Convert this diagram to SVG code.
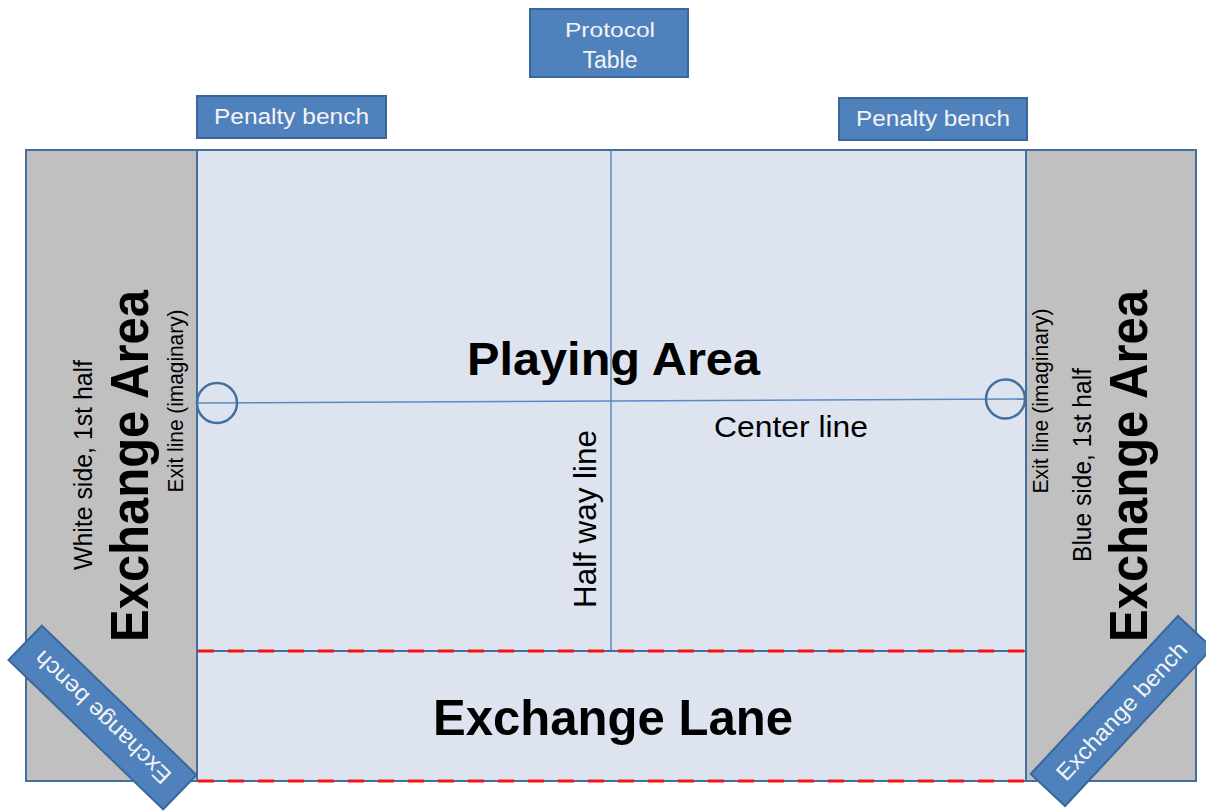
<svg xmlns="http://www.w3.org/2000/svg" width="1206" height="811" viewBox="0 0 1206 811">
<style>
.box{fill:#4f81bd;stroke:#3a669a;stroke-width:2}
.btxt{font-family:"Liberation Sans",Arial,sans-serif;fill:#f4f4f4;text-anchor:middle}
.lbl{font-family:"Liberation Sans",Arial,sans-serif;fill:#000;text-anchor:middle}
.big{font-weight:bold}
.red{stroke:#ff1010;stroke-width:3;stroke-dasharray:16 14;fill:none}
</style>
<rect width="1206" height="811" fill="#ffffff"/>
<g id="field">
  <rect x="26" y="150" width="1170" height="631" fill="#c0c0c0" stroke="#41709f" stroke-width="2"/>
  <rect x="197" y="150" width="829" height="631" fill="#dde4f0" stroke="#41709f" stroke-width="2"/>
</g>
<g id="connectors">
  <line x1="611" y1="150" x2="611" y2="650" stroke="#5a8ac6" stroke-width="1.5"/>
  <line x1="197" y1="403" x2="1026" y2="399" stroke="#5a8ac6" stroke-width="1.5"/>
  <line x1="197" y1="651" x2="1026" y2="651" stroke="#41709f" stroke-width="2"/>
  <line class="red" x1="198" y1="651" x2="1026" y2="651"/>
  <line class="red" x1="198" y1="781" x2="1026" y2="781"/>
</g>
<g id="exit-circles">
  <circle cx="217" cy="403" r="20" fill="none" stroke="#41709f" stroke-width="2.5"/>
  <circle cx="1005.5" cy="399" r="19.5" fill="none" stroke="#41709f" stroke-width="2.5"/>
</g>
<g id="playing-area">
  <text class="lbl big" x="613.5" y="375" font-size="46" textLength="293" lengthAdjust="spacingAndGlyphs">Playing Area</text>
  <text class="lbl" x="791" y="437" font-size="29" textLength="154" lengthAdjust="spacingAndGlyphs">Center line</text>
  <text class="lbl" transform="translate(596,519) rotate(-90)" font-size="32" textLength="178" lengthAdjust="spacingAndGlyphs">Half way line</text>
</g>
<g id="exchange-lane">
  <text class="lbl big" x="613" y="735" font-size="50" textLength="360" lengthAdjust="spacingAndGlyphs">Exchange Lane</text>
</g>
<g id="left-exchange-area">
  <text class="lbl big" transform="translate(148,466) rotate(-90)" font-size="53" textLength="352" lengthAdjust="spacingAndGlyphs">Exchange Area</text>
  <text class="lbl" transform="translate(92,465) rotate(-90)" font-size="25.5" textLength="210" lengthAdjust="spacingAndGlyphs">White side, 1st half</text>
  <text class="lbl" transform="translate(182.5,401) rotate(-90)" font-size="21.5" textLength="183" lengthAdjust="spacingAndGlyphs">Exit line (imaginary)</text>
</g>
<g id="right-exchange-area">
  <text class="lbl big" transform="translate(1147,466) rotate(-90)" font-size="53" textLength="352" lengthAdjust="spacingAndGlyphs">Exchange Area</text>
  <text class="lbl" transform="translate(1091,465) rotate(-90)" font-size="25.5" textLength="194" lengthAdjust="spacingAndGlyphs">Blue side, 1st half</text>
  <text class="lbl" transform="translate(1047.5,401) rotate(-90)" font-size="21.5" textLength="185" lengthAdjust="spacingAndGlyphs">Exit line (imaginary)</text>
</g>
<g id="protocol-table">
  <rect class="box" x="530" y="9" width="158" height="68"/>
  <text class="btxt" x="610" y="37" font-size="21" textLength="90" lengthAdjust="spacingAndGlyphs">Protocol</text>
  <text class="btxt" x="610" y="68" font-size="23">Table</text>
</g>
<g id="penalty-bench-left">
  <rect class="box" x="197" y="96" width="189" height="42"/>
  <text class="btxt" x="291.5" y="124" font-size="22" textLength="155" lengthAdjust="spacingAndGlyphs">Penalty bench</text>
</g>
<g id="penalty-bench-right">
  <rect class="box" x="839" y="98" width="188" height="42"/>
  <text class="btxt" x="933" y="126" font-size="22" textLength="154" lengthAdjust="spacingAndGlyphs">Penalty bench</text>
</g>
<g id="exchange-bench-left" transform="translate(102.5,717.5) rotate(44)">
  <rect class="box" x="-107.5" y="-24" width="215" height="48"/>
  <text class="btxt" transform="rotate(180)" x="0" y="8" font-size="23" textLength="180" lengthAdjust="spacingAndGlyphs">Exchange bench</text>
</g>
<g id="exchange-bench-right" transform="translate(1121.5,711) rotate(-47)">
  <rect class="box" x="-108" y="-23.5" width="216" height="47"/>
  <text class="btxt" x="0" y="8" font-size="23" textLength="180" lengthAdjust="spacingAndGlyphs">Exchange bench</text>
</g>
</svg>
